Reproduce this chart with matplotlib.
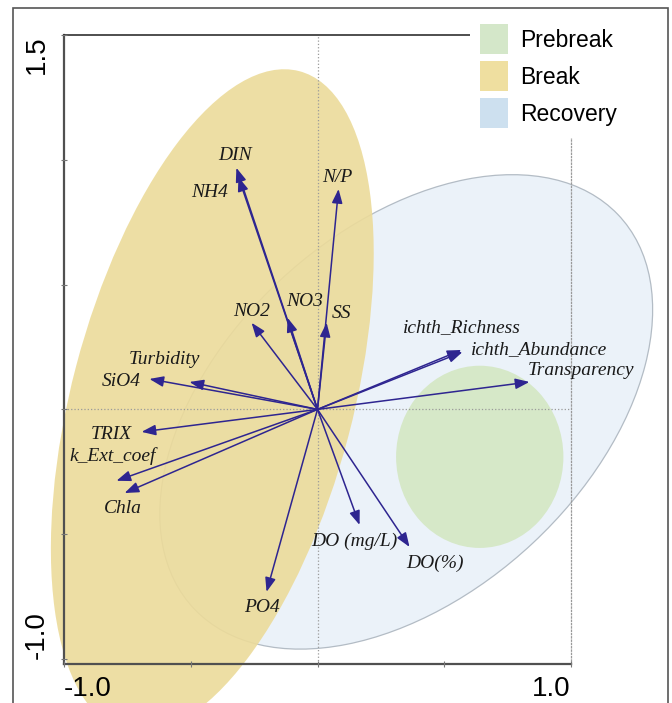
import matplotlib
matplotlib.use('Agg')
import matplotlib.pyplot as plt
from matplotlib.patches import Ellipse, Patch, Rectangle

# 变量载荷 (箭头端点)
variables = ['DIN', 'NH4', 'N/P', 'NO3', 'SS', 'NO2', 'Turbidity', 'SiO4',
             'TRIX', 'k_Ext_coef', 'Chla', 'PO4', 'DO (mg/L)', 'DO(%)',
             'Transparency', 'ichth_Abundance', 'ichth_Richness']
load_x = [-0.320, -0.312, 0.083, -0.118, 0.036, -0.260, -0.505, -0.663,
          -0.694, -0.793, -0.761, -0.201, 0.166, 0.363, 0.836, 0.572, 0.568]
load_y = [0.968, 0.931, 0.883, 0.367, 0.347, 0.347, 0.110, 0.122,
          -0.090, -0.286, -0.335, -0.731, -0.463, -0.551, 0.110, 0.230, 0.238]

# 分组椭圆 (中心, 宽, 高, 角度)
groups = ['Prebreak', 'Break', 'Recovery']
ell_cx = [0.64, -0.415, 0.35]
ell_cy = [-0.19, 0.034, -0.01]
ell_w = [0.66, 2.73, 2.30]
ell_h = [0.73, 1.11, 1.45]
ell_angle = [0, 75.5, 43.5]

# 标签偏移 (points)
label_offsets = {
    'DIN': (-1, 9), 'NH4': (-21, -11.5), 'N/P': (-1, 8.5), 'NO3': (12, 11.5),
    'SS': (11, 7), 'NO2': (0, 8), 'Turbidity': (-18, 16), 'SiO4': (-20, -2),
    'TRIX': (-21.5, -2), 'k_Ext_coef': (-3, 18), 'Chla': (-1.5, -11.5),
    'PO4': (-3, -11.5), 'DO (mg/L)': (-3.5, -12), 'DO(%)': (18, -11.5),
    'Transparency': (37, 8.5), 'ichth_Abundance': (55, 1.5),
    'ichth_Richness': (0, 16),
}

fill_colors = ['#d6e8c8', '#ecdb9a', '#ebf2f9']
legend_colors = ['#d4e7c9', '#efdfa0', '#cde0ef']
arrow_color = '#2e2590'

fig = plt.figure(figsize=(6.72, 7.03), dpi=100)
ax = fig.add_axes([64 / 672, 1 - 664 / 703, 507 / 672, 629 / 703])

# 外框
fig.patches.append(Rectangle((13 / 672, -0.01), 655 / 672, 1.01 - 8 / 703,
                             transform=fig.transFigure, fill=False,
                             edgecolor='#555555', lw=1.2))

# 椭圆: Recovery -> Prebreak -> Break
blue = Ellipse((ell_cx[2], ell_cy[2]), ell_w[2], ell_h[2], angle=ell_angle[2],
               facecolor=fill_colors[2], edgecolor='#b3bcc5', lw=0.9,
               clip_on=False, zorder=1)
ax.add_patch(blue)
green = Ellipse((ell_cx[0], ell_cy[0]), ell_w[0], ell_h[0], angle=ell_angle[0],
                facecolor=fill_colors[0], edgecolor='none', clip_on=False, zorder=1.2)
ax.add_patch(green)
yellow = Ellipse((ell_cx[1], ell_cy[1]), ell_w[1], ell_h[1], angle=ell_angle[1],
                 facecolor=fill_colors[1], edgecolor='none', alpha=0.9,
                 clip_on=False, zorder=1.3)
ax.add_patch(yellow)

ax.axvline(0, ls=':', color='#9a9a9a', lw=0.9, zorder=1.6)
ax.axhline(0, ls=':', color='#9a9a9a', lw=0.9, zorder=1.6)
ax.set_axisbelow(False)

# 箭头和标签
for name, x, y in zip(variables, load_x, load_y):
    ax.annotate('', xy=(x, y), xytext=(0, 0),
                arrowprops=dict(arrowstyle='-|>,head_length=0.85,head_width=0.32',
                                color=arrow_color, lw=1.1, shrinkA=0, shrinkB=0),
                zorder=5)
    ax.annotate(name, xy=(x, y), xytext=label_offsets[name],
                textcoords='offset points', ha='center', va='center',
                fontsize=14, fontstyle='italic', family='Liberation Serif',
                color='#1a1a1a', zorder=6)

ax.set_xlim(-1.0, 1.0)
ax.set_ylim(-1.02, 1.5)

ax.set_xticks([-1.0, -0.5, 0, 0.5, 1.0])
ax.set_xticklabels(['-1.0', '', '', '', '1.0'])
ax.set_yticks([-1.0, -0.5, 0, 0.5, 1.0, 1.5])
ax.set_yticklabels(['-1.0', '', '', '', '', '1.5'])
ax.tick_params(direction='inout', length=5, width=0.8, color='#777777',
               labelsize=20, pad=6)
ax.tick_params(axis='y', pad=8)
for lab in ax.get_xticklabels() + ax.get_yticklabels():
    lab.set_family('Liberation Sans')
xl = ax.get_xticklabels()
xl[0].set_ha('left')
xl[-1].set_ha('right')
yl = ax.get_yticklabels()
for lab in yl:
    lab.set_rotation(90)
yl[0].set_va('bottom')
yl[-1].set_va('top')

for side in ['left', 'bottom']:
    ax.spines[side].set_color('#505050')
    ax.spines[side].set_linewidth(1.6)
ax.spines['top'].set_color('#303030')
ax.spines['top'].set_linewidth(1.2)
ax.spines['right'].set_color('#9a9a9a')
ax.spines['right'].set_linestyle(':')
ax.spines['right'].set_linewidth(0.9)

handles = [Patch(facecolor=c, edgecolor='none', label=g)
           for g, c in zip(groups, legend_colors)]
leg = fig.legend(handles=handles, loc='upper left',
                 bbox_to_anchor=(470 / 672, 1 - 14 / 703),
                 prop={'family': 'Liberation Sans', 'size': 16.5},
                 frameon=True, framealpha=1, facecolor='white', edgecolor='none',
                 fancybox=False, borderaxespad=0, borderpad=0.45,
                 handlelength=1.2, handleheight=1.6, handletextpad=0.55,
                 labelspacing=0.33)
leg.set_zorder(10)

fig.savefig('out.png', dpi=100, facecolor='white')
